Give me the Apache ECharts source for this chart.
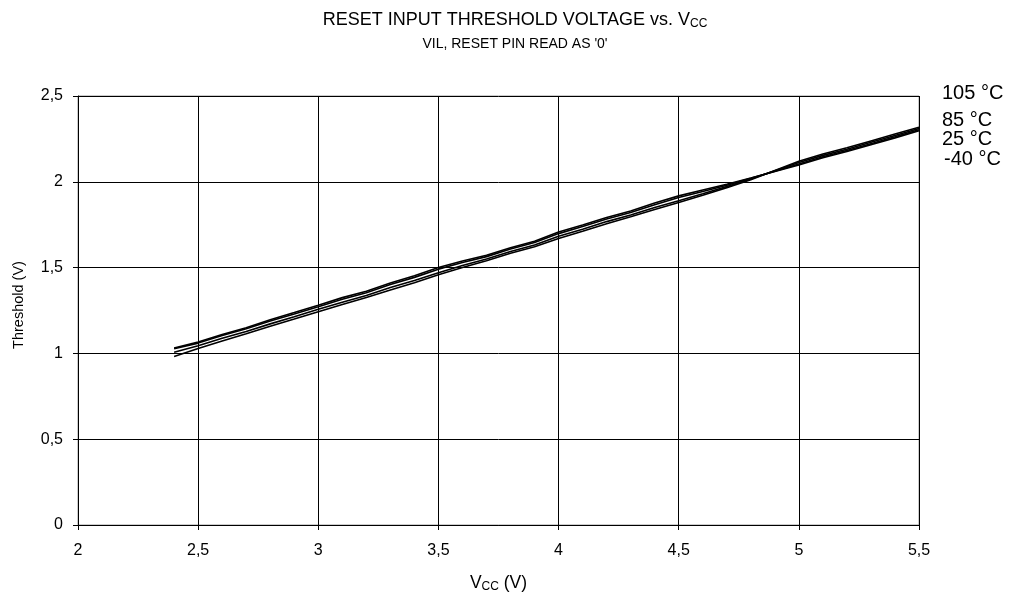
<!DOCTYPE html>
<html><head><meta charset="utf-8">
<script src="https://cdn.jsdelivr.net/npm/echarts@6/dist/echarts.min.js"></script>
<style>html,body{margin:0;padding:0;background:#fff}#c{width:1015px;height:600px}</style>
</head><body><div id="c"></div>
<script>
const vcc = [2.4,2.5,2.6,2.7,2.8,2.9,3.0,3.1,3.2,3.3,3.4,3.5,3.6,3.7,3.8,3.9,4.0,4.1,4.2,4.3,4.4,4.5,4.6,4.7,4.8,4.9,5.0,5.1,5.2,5.3,5.4,5.5];
const t105 = [1.032,1.066,1.110,1.150,1.196,1.238,1.281,1.325,1.362,1.410,1.452,1.500,1.538,1.572,1.616,1.654,1.708,1.748,1.792,1.830,1.876,1.918,1.952,1.986,2.022,2.060,2.098,2.140,2.176,2.216,2.256,2.297];
const t85  = [1.027,1.060,1.104,1.144,1.189,1.230,1.272,1.316,1.354,1.401,1.443,1.491,1.530,1.564,1.608,1.646,1.698,1.739,1.783,1.821,1.866,1.908,1.944,1.980,2.020,2.062,2.104,2.146,2.182,2.222,2.262,2.303];
const t25  = [1.007,1.045,1.088,1.128,1.172,1.214,1.257,1.298,1.338,1.384,1.425,1.470,1.512,1.550,1.594,1.632,1.683,1.724,1.768,1.806,1.850,1.890,1.930,1.972,2.016,2.064,2.112,2.154,2.190,2.230,2.270,2.310];
const tm40 = [0.982,1.028,1.072,1.114,1.158,1.200,1.243,1.285,1.326,1.370,1.412,1.458,1.500,1.540,1.584,1.622,1.670,1.712,1.756,1.796,1.838,1.880,1.922,1.966,2.012,2.066,2.120,2.162,2.198,2.238,2.278,2.318];
const seriesNames = ['105 °C','85 °C','25 °C','-40 °C'];
const seriesData = [t105, t85, t25, tm40];
const xTicks = [2,2.5,3,3.5,4,4.5,5,5.5];
const yTicks = [0,0.5,1,1.5,2,2.5];

const fmt = v => String(v).replace('.', ',');
const chart = echarts.init(document.getElementById('c'));
const font = 'Liberation Sans, Arial, sans-serif';
chart.setOption({
  backgroundColor:'#fff',
  animation:false,
  title:[{
    text:'RESET INPUT THRESHOLD VOLTAGE vs. V{s|CC}',
    left:510, top:6, textAlign:'center',
    textStyle:{fontFamily:font, fontSize:18, fontWeight:'normal', color:'#000',
      rich:{s:{fontFamily:font, fontSize:12, color:'#000', padding:[7,0,0,0]}}}
  },{
    text:"VIL, RESET PIN READ AS '0'",
    left:510, top:32, textAlign:'center',
    textStyle:{fontFamily:font, fontSize:14, fontWeight:'normal', color:'#000', letterSpacing:-0.3}
  }],
  grid:{left:78, right:96, top:96, bottom:75, show:true, borderColor:'#999', borderWidth:1},
  xAxis:{type:'value', min:2, max:5.5, interval:0.5,
    name:'V{s|CC} (V)', nameLocation:'middle', nameGap:48,
    nameTextStyle:{fontFamily:font, fontSize:17.5, color:'#000', rich:{s:{fontFamily:font,fontSize:12,color:'#000',padding:[8,0,0,0]}}},
    axisLine:{lineStyle:{color:'#000', width:1}},
    axisTick:{show:true, length:5, lineStyle:{color:'#000'}},
    axisLabel:{fontFamily:font, fontSize:16, color:'#000', margin:18, formatter:fmt},
    splitLine:{show:true, lineStyle:{color:'#000', width:1}}
  },
  yAxis:{type:'value', min:0, max:2.5, interval:0.5,
    axisLine:{show:true, lineStyle:{color:'#000', width:1}},
    axisTick:{show:true, length:5, lineStyle:{color:'#000'}},
    axisLabel:{fontFamily:font, fontSize:16, color:'#000', margin:15, formatter:fmt},
    splitLine:{show:true, lineStyle:{color:'#000', width:1}}
  },
  series: seriesData.map((d,i)=>({
    name:seriesNames[i], type:'line', showSymbol:false, symbol:'none',
    data:d.map((v,j)=>[vcc[j], v]),
    lineStyle:{color:'#000', width:1.6}, z:3
  })),
  graphic:[
    {type:'text', x:19, y:305, rotation:Math.PI/2, style:{text:'Threshold (V)', fontFamily:font, fontSize:14.5, fill:'#000', align:'center', verticalAlign:'middle'}},
    {type:'text', x:942, y:93, style:{text:seriesNames[0], fontFamily:font, fontSize:20, fill:'#000', verticalAlign:'middle'}},
    {type:'text', x:942, y:120, style:{text:seriesNames[1], fontFamily:font, fontSize:20, fill:'#000', verticalAlign:'middle'}},
    {type:'text', x:942, y:139, style:{text:seriesNames[2], fontFamily:font, fontSize:20, fill:'#000', verticalAlign:'middle'}},
    {type:'text', x:944, y:159, style:{text:seriesNames[3], fontFamily:font, fontSize:20, fill:'#000', verticalAlign:'middle'}}
  ]
});
</script></body></html>
